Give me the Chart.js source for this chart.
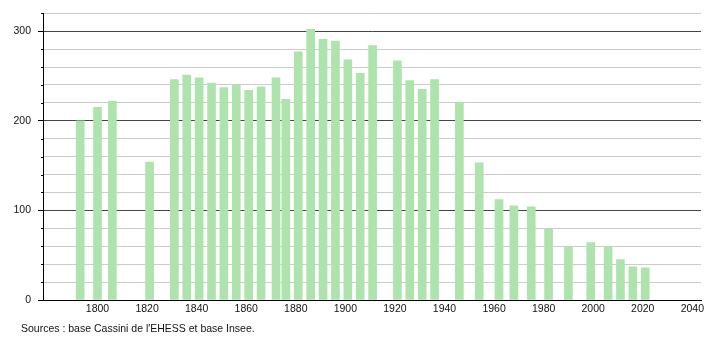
<!DOCTYPE html>
<html>
<head>
<meta charset="utf-8">
<script src="https://cdn.jsdelivr.net/npm/chart.js@4/dist/chart.umd.min.js"></script>
<style>
  body { margin: 0; background: #fff; }
  #wrap { position: relative; width: 710px; height: 340px; }
  #source {
    position: absolute; left: 21px; top: 322px;
    font: 10.5px "Liberation Sans", Arial, sans-serif; color: #111;
  }
</style>
</head>
<body>
<div id="wrap">
  <canvas id="popChart" width="710" height="340"></canvas>
  <div id="source">Sources : base Cassini de l'EHESS et base Insee.</div>
</div>
<script>
const years = [1793, 1800, 1806, 1821, 1831, 1836, 1841, 1846, 1851, 1856,
    1861, 1866, 1872, 1876, 1881, 1886, 1891, 1896, 1901, 1906, 1911,
    1921, 1926, 1931, 1936, 1946, 1954, 1962, 1968, 1975, 1982, 1990,
    1999, 2006, 2011, 2016, 2021];
const population = [200, 215, 222, 154, 246, 251, 248, 242, 237, 240,
    234, 238, 248, 224, 277, 302, 291, 289, 268, 253, 284,
    267, 245, 235, 246, 220, 153, 112, 105, 104, 79, 59,
    64, 59, 45, 37, 36];
const xTickLabels = [1800, 1820, 1840, 1860, 1880, 1900, 1920, 1940, 1960, 1980, 2000, 2020, 2040];
const yTickLabels = [0, 100, 200, 300];

const barColor = 'rgb(174, 227, 173)';
const font = { family: '"Liberation Sans", Arial, sans-serif', size: 10.5 };

// short ticks for the minor y gridlines
const minorTicks = {
    id: 'minorTicks',
    afterDraw(chart) {
        const y = chart.scales.y;
        const c = chart.ctx;
        c.save();
        c.strokeStyle = '#000';
        c.lineWidth = 1;
        y.ticks.forEach(t => {
            if (yTickLabels.includes(t.value)) return;
            const py = Math.round(y.getPixelForValue(t.value)) + 0.5;
            c.beginPath();
            c.moveTo(y.right - 2, py);
            c.lineTo(y.right, py);
            c.stroke();
        });
        c.restore();
    }
};

new Chart(document.getElementById('popChart'), {
    type: 'bar',
    data: {
        datasets: [{
            data: years.map((yr, i) => ({ x: yr, y: population[i] })),
            backgroundColor: barColor,
            borderWidth: 0,
            barThickness: 8
        }]
    },
    options: {
        responsive: false,
        animation: false,
        layout: { padding: { top: 10, right: 9, bottom: 20, left: 0 } },
        plugins: { legend: { display: false }, tooltip: { enabled: false } },
        scales: {
            x: {
                type: 'linear',
                offset: false,
                min: 1778,
                max: 2043.5,
                afterFit: s => { s.height = 20; },
                afterBuildTicks: s => { s.ticks = xTickLabels.map(v => ({ value: v })); },
                grid: { display: false, drawTicks: false },
                border: { display: true, color: '#000', width: 1 },
                ticks: { color: '#111', font: font, padding: 3, maxRotation: 0, callback: v => String(v) }
            },
            y: {
                min: 0,
                max: 320,
                afterFit: s => { s.width = 43; },
                grid: {
                    color: ctx => yTickLabels.includes(ctx.tick.value) ? '#444' : '#ccc',
                    tickColor: ctx => yTickLabels.includes(ctx.tick.value) ? '#000' : 'rgba(0,0,0,0)',
                    tickLength: 5,
                    lineWidth: 1
                },
                border: { display: true, color: '#000', width: 1 },
                ticks: {
                    stepSize: 20,
                    color: '#111',
                    font: font,
                    padding: 7,
                    autoSkip: false,
                    callback: v => yTickLabels.includes(v) ? String(v) : ''
                }
            }
        }
    },
    plugins: [minorTicks]
});
</script>
</body>
</html>
